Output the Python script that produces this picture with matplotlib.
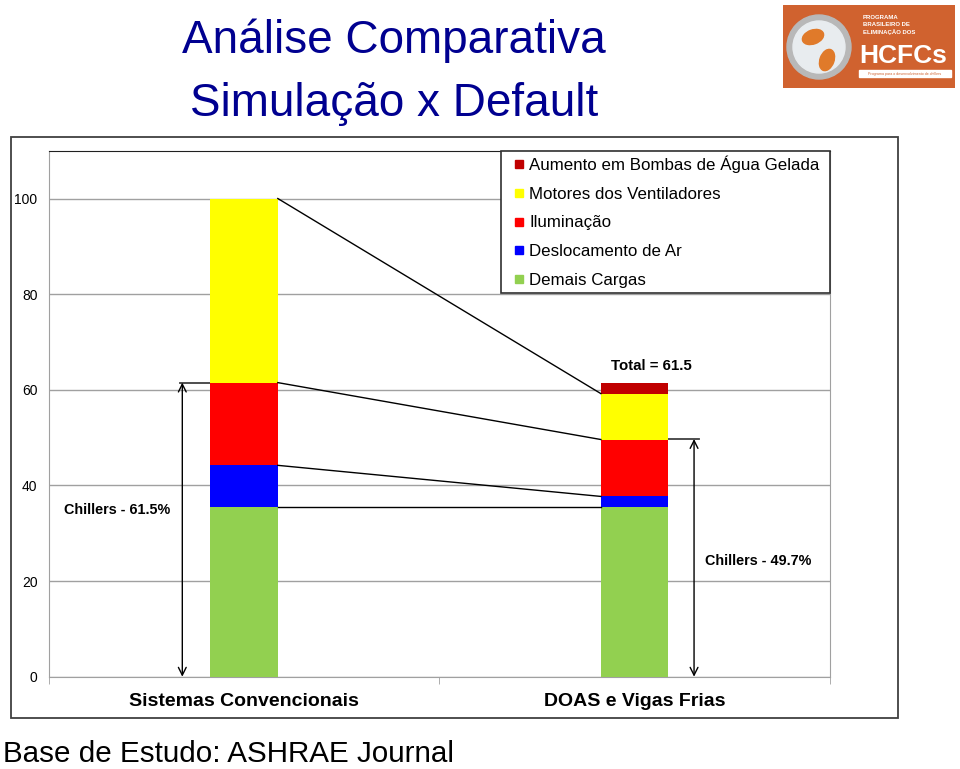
import matplotlib
matplotlib.use("Agg")
import matplotlib.pyplot as plt
import numpy as np
from matplotlib.patches import Rectangle, Circle, Ellipse
from matplotlib.lines import Line2D

plt.rcParams['font.family'] = ['Liberation Sans', 'DejaVu Sans']

# dados
categorias = ['Sistemas Convencionais', 'DOAS e Vigas Frias']
series = ['Demais Cargas', 'Deslocamento de Ar', 'Iluminação',
          'Motores dos Ventiladores', 'Aumento em Bombas de Água Gelada']
demais = [35.4, 35.4]
deslocamento = [8.8, 2.3]
iluminacao = [17.3, 11.9]
motores = [38.5, 9.6]
bombas = [0.0, 2.3]
cores = ['#92d050', '#0000ff', '#ff0000', '#ffff00', '#c00000']
chillers = [61.5, 49.7]
total_doas = 61.5

valores = [demais, deslocamento, iluminacao, motores, bombas]

fig = plt.figure(figsize=(9.6, 7.69), dpi=100)

# moldura externa do grafico
fig.patches.append(Rectangle((11 / 960, 1 - 718 / 769), 887 / 960, 581.3 / 769,
                             transform=fig.transFigure, fill=False,
                             edgecolor='#404040', lw=1.3))

ax = fig.add_axes([48.7 / 960, 1 - 676.7 / 769, 781.3 / 960, 526 / 769])
x = np.arange(len(categorias))
w = 0.173
base = np.zeros(len(categorias))
for nome, v, c in zip(series, valores, cores):
    ax.bar(x, v, w, bottom=base, color=c, label=nome, zorder=3)
    base = base + np.array(v)

ax.set_xlim(-0.5, 1.5)
ax.set_ylim(0, 110)
ax.set_yticks([0, 20, 40, 60, 80, 100])
ax.tick_params(axis='y', length=0, labelsize=10, pad=8)
ax.grid(axis='y', color='#a0a0a0', lw=1, zorder=0)
ax.set_xticks(x)
ax.set_xticklabels(categorias, fontsize=14, fontweight='bold')
ax.tick_params(axis='x', length=0, pad=12)
ax.set_xticks([-0.5, 0.5, 1.5], minor=True)
ax.tick_params(axis='x', which='minor', length=5, color='#a0a0a0')
for s in ['left', 'bottom', 'right']:
    ax.spines[s].set_color('#a0a0a0')
ax.spines['top'].set_color('#202020')

# linhas de ligacao entre as barras
topo1 = np.cumsum([v[0] for v in valores])
topo2 = np.cumsum([v[1] for v in valores])
x1 = x[0] + w / 2
x2 = x[1] - w / 2
for i in [0, 1, 2, 3]:
    ax.plot([x1, x2], [topo1[i], topo2[i]], color='black', lw=1, zorder=4)

# setas chillers
xa1 = -0.158
ax.annotate('', xy=(xa1, 0), xytext=(xa1, chillers[0]),
            arrowprops=dict(arrowstyle='<->', color='black', lw=1,
                            shrinkA=0, shrinkB=0, mutation_scale=14))
ax.plot([xa1 - 0.006, x[0] - w / 2], [chillers[0], chillers[0]], color='#404040', lw=1.3)
ax.text(-0.325, 34.8, 'Chillers - 61.5%', fontsize=10.4, fontweight='bold',
        ha='center', va='center')

xa2 = 1.152
ax.annotate('', xy=(xa2, 0), xytext=(xa2, chillers[1]),
            arrowprops=dict(arrowstyle='<->', color='black', lw=1,
                            shrinkA=0, shrinkB=0, mutation_scale=14))
ax.plot([x[1] + w / 2, xa2 + 0.013], [chillers[1], chillers[1]], color='#404040', lw=1.3)
ax.text(1.315, 24.2, 'Chillers - 49.7%', fontsize=10.4, fontweight='bold',
        ha='center', va='center')

ax.text(1.044, 64.9, 'Total = ' + str(total_doas), fontsize=10.8, fontweight='bold',
        ha='center', va='center')

# legenda (moldura desenhada a parte)
handles = [Line2D([], [], marker='s', ls='', color=c, markersize=6, label=n)
           for n, c in zip(series, cores)][::-1]
leg = ax.legend(handles=handles, loc='upper right', bbox_to_anchor=(1, 1 + 5 / 526),
                borderaxespad=0, fontsize=12.2, frameon=False,
                handlelength=0.55, handletextpad=0.35, labelspacing=0.8,
                borderpad=0.6)
leg.set_zorder(5)
caixa = Rectangle((501 / 960, 1 - 293.3 / 769), 329 / 960, 142.6 / 769,
                  transform=fig.transFigure, facecolor='white',
                  edgecolor='#303030', lw=1.2, zorder=4.5)
ax.add_artist(caixa)
caixa.set_clip_on(False)

# titulos
fig.text(0.4104, 1 - 41 / 769, 'Análise Comparativa', fontsize=33, color='#000090',
         ha='center', va='center')
fig.text(0.411, 1 - 104 / 769, 'Simulação x Default', fontsize=33, color='#000090',
         ha='center', va='center')
fig.text(3 / 960, 1 - 762 / 769, 'Base de Estudo: ASHRAE Journal', fontsize=21.3,
         ha='left', va='baseline')

# logotipo
lg = fig.add_axes([783 / 960, 1 - 88 / 769, 172 / 960, 83 / 769])
lg.set_xlim(0, 172)
lg.set_ylim(83, 0)
lg.axis('off')
lg.add_patch(Rectangle((0, 0), 172, 83, color='#d0622f'))
lg.add_patch(Circle((36, 42), 32, color='#b8b8b8'))
lg.add_patch(Circle((36, 42), 26, color='#e8ecef'))
lg.add_patch(Ellipse((30, 32), 22, 14, angle=-20, color='#e07a2a'))
lg.add_patch(Ellipse((44, 55), 14, 22, angle=20, color='#e07a2a'))
lg.text(80, 20, 'PROGRAMA\nBRASILEIRO DE\nELIMINAÇÃO DOS', fontsize=4.3, color='white',
        fontweight='bold', va='center', ha='left', linespacing=1.5)
lg.text(120, 51, 'HCFCs', fontsize=19, color='white', fontweight='bold',
        ha='center', va='center')
lg.add_patch(Rectangle((76, 65), 92, 7, color='white'))
lg.text(122, 68.5, 'Programa para o desenvolvimento de chillers', fontsize=2.6,
        color='#d0622f', ha='center', va='center')

fig.savefig('out.png', dpi=100)
